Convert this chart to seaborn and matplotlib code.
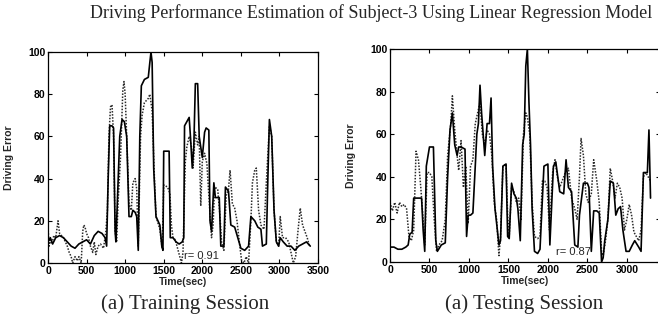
import matplotlib
matplotlib.use("Agg")
import matplotlib.pyplot as plt
import seaborn as sns
import pandas as pd

# ---------------- data ----------------
train_t_actual = [0, 30, 60, 100, 150, 200, 250, 300, 350, 400, 450, 500, 550, 600, 650, 700, 740, 760,
                  780, 800, 830, 850, 870, 880, 900, 930, 960, 990, 1020, 1050, 1080, 1100, 1130, 1150,
                  1170, 1190, 1210, 1250, 1300, 1320, 1335, 1350, 1370, 1400, 1450, 1475, 1490, 1500,
                  1570, 1585, 1620, 1660, 1700, 1740, 1760, 1770, 1800, 1830, 1850, 1870, 1890, 1910,
                  1940, 1960, 2000, 2030, 2050, 2085, 2100, 2120, 2150, 2170, 2220, 2240, 2280, 2300,
                  2340, 2370, 2420, 2460, 2500, 2550, 2600, 2630, 2680, 2720, 2760, 2780, 2830, 2850,
                  2870, 2900, 2930, 2960, 2990, 3010, 3050, 3100, 3150, 3200, 3250, 3300, 3350, 3400]
train_actual = [10, 12, 9, 12, 13, 12, 10, 8, 7, 9, 10, 11, 9, 13, 15, 14, 12, 8,
                40, 65, 65, 64, 15, 10, 30, 60, 68, 67, 60, 22, 22, 25, 24, 22,
                6, 60, 84, 87, 88, 95, 100, 95, 45, 22, 18, 8, 6, 53,
                53, 12, 12, 10, 9, 10, 12, 65, 67, 69, 58, 45, 55, 85,
                85, 60, 50, 62, 64, 63, 20, 15, 38, 31, 31, 8, 8, 36,
                34, 18, 17, 12, 7, 6, 8, 22, 20, 17, 16, 8, 9, 40,
                68, 60, 25, 10, 8, 12, 10, 8, 8, 6, 8, 9, 10, 8]

train_t_est = [0, 15, 30, 50, 75, 100, 115, 130, 150, 175, 200, 225, 250, 275, 300, 320, 350, 380, 400,
               430, 450, 465, 480, 500, 525, 550, 580, 600, 620, 650, 680, 720, 750, 770, 790, 810, 830,
               850, 870, 890, 910, 940, 970, 985, 1000, 1030, 1050, 1080, 1100, 1130, 1150, 1170, 1200,
               1220, 1250, 1300, 1320, 1350, 1380, 1400, 1450, 1480, 1500, 1550, 1580, 1600, 1620, 1650,
               1700, 1730, 1750, 1780, 1800, 1830, 1860, 1880, 1910, 1940, 1960, 1980, 2000, 2030, 2060,
               2100, 2120, 2140, 2160, 2200, 2230, 2250, 2280, 2310, 2340, 2360, 2390, 2420, 2450, 2480,
               2510, 2540, 2570, 2600, 2630, 2650, 2680, 2700, 2730, 2760, 2800, 2830, 2870, 2900, 2930,
               2960, 2990, 3010, 3040, 3080, 3120, 3150, 3180, 3210, 3240, 3270, 3300, 3330, 3360, 3390]
train_est = [17, 8, 11, 9, 13, 12, 16, 20, 14, 13, 12, 10, 8, 5, 3, 0, 3, 1, 3,
             0, 15, 18, 17, 14, 12, 8, 5, 10, 4, 8, 9, 7, 15, 25, 60, 74, 75,
             60, 15, 10, 30, 50, 82, 86, 80, 50, 28, 25, 38, 40, 35, 8, 60,
             70, 76, 78, 80, 72, 40, 22, 16, 7, 37, 36, 33, 18, 12, 11,
             4, 0, 5, 48, 55, 60, 55, 45, 62, 56, 60, 27, 48, 52, 47,
             23, 12, 18, 36, 35, 22, 10, 6, 32, 35, 44, 28, 26, 20, 10,
             1, 0, 3, 0, 20, 38, 44, 45, 25, 18, 16, 38, 65, 60, 25,
             10, 8, 22, 12, 12, 10, 5, 0, 3, 15, 26, 18, 15, 12, 8]

test_t_actual = [0, 50, 100, 150, 200, 230, 250, 280, 300, 350, 400, 420, 440, 460, 500, 550, 580, 600,
                 650, 700, 730, 760, 790, 820, 850, 870, 900, 950, 970, 990, 1020, 1050, 1080, 1100, 1120,
                 1140, 1160, 1180, 1200, 1230, 1260, 1280, 1300, 1330, 1360, 1380, 1400, 1430, 1470, 1490,
                 1510, 1540, 1570, 1600, 1620, 1650, 1680, 1700, 1720, 1740, 1760, 1780, 1800, 1830, 1870,
                 1900, 1950, 2000, 2025, 2070, 2100, 2150, 2200, 2230, 2260, 2300, 2340, 2380, 2400, 2450,
                 2500, 2520, 2550, 2580, 2620, 2650, 2680, 2700, 2720, 2760, 2790, 2830, 2860, 2890, 2920,
                 2950, 2990, 3030, 3070, 3100, 3150, 3180, 3210, 3260, 3280, 3300]
test_actual = [7, 7, 6, 6, 7, 8, 13, 14, 30, 30, 30, 15, 5, 45, 54, 54, 10, 5,
               8, 9, 40, 62, 70, 55, 50, 54, 54, 53, 12, 22, 22, 23, 45, 60, 65,
               83, 70, 60, 50, 65, 65, 77, 45, 25, 15, 8, 10, 45, 46, 12,
               11, 37, 32, 30, 25, 10, 55, 60, 92, 100, 75, 55, 25, 5, 4,
               6, 45, 46, 8, 45, 47, 33, 32, 48, 35, 33, 8, 7, 22, 37,
               37, 35, 5, 24, 24, 23, 0, 2, 10, 20, 38, 37, 22, 25, 26,
               15, 5, 5, 8, 10, 7, 5, 42, 42, 62, 30]

test_t_est = [0, 30, 60, 90, 120, 150, 180, 210, 240, 270, 300, 330, 360, 390, 420, 440, 470, 500, 530,
              560, 590, 620, 660, 700, 730, 770, 790, 820, 850, 870, 900, 930, 960, 990, 1020, 1050, 1080,
              1110, 1140, 1170, 1200, 1230, 1260, 1290, 1320, 1350, 1380, 1400, 1430, 1470, 1490, 1510,
              1540, 1570, 1600, 1630, 1660, 1690, 1720, 1740, 1770, 1800, 1830, 1870, 1900, 1930, 1960,
              1990, 2020, 2060, 2090, 2120, 2150, 2180, 2220, 2260, 2300, 2340, 2370, 2400, 2420, 2450,
              2480, 2510, 2550, 2580, 2620, 2650, 2680, 2700, 2730, 2760, 2790, 2820, 2850, 2880, 2910,
              2940, 2970, 3000, 3030, 3060, 3090, 3120, 3150, 3180, 3210, 3240, 3270, 3300]
test_est = [28, 24, 28, 23, 28, 26, 27, 25, 12, 10, 15, 52, 48, 35, 20, 8, 42, 42, 40,
            20, 5, 8, 10, 20, 50, 65, 78, 62, 50, 43, 57, 35, 45, 18, 45, 48, 65,
            70, 75, 60, 55, 62, 60, 50, 28, 20, 3, 12, 45, 46, 22, 12,
            35, 33, 28, 30, 20, 60, 70, 68, 60, 28, 12, 11, 12, 38, 38,
            35, 15, 42, 48, 40, 35, 38, 42, 44, 30, 25, 20, 40, 58, 50,
            32, 28, 32, 48, 38, 28, 5, 3, 10, 20, 44, 38, 30, 37, 35,
            30, 15, 20, 27, 22, 14, 12, 10, 15, 40, 42, 40, 38]

train_x_ticks = [0, 500, 1000, 1500, 2000, 2500, 3000, 3500]
test_x_ticks = [0, 500, 1000, 1500, 2000, 2500, 3000]
y_ticks = [0, 20, 40, 60, 80, 100]

# ---------------- figure ----------------
sns.set_style("ticks")
plt.rcParams["font.family"] = ["Liberation Sans", "DejaVu Sans"]

W, H = 658, 321
fig = plt.figure(figsize=(W / 100, H / 100), dpi=100)


def px_axes(x0, y0, x1, y1):
    return fig.add_axes([x0 / W, 1 - y1 / H, (x1 - x0) / W, (y1 - y0) / H])


ax1 = px_axes(48, 52, 318, 263)
ax2 = px_axes(390, 49, 660, 262)


def draw(ax, ta, va, te, ve, xlim, xticks, rtext, rpos):
    da = pd.DataFrame({"t": ta, "v": va})
    de = pd.DataFrame({"t": te, "v": ve})
    sns.lineplot(data=de, x="t", y="v", ax=ax, color="#2a2a2a", linewidth=1.1,
                 linestyle=(0, (1, 1)), estimator=None, sort=False)
    sns.lineplot(data=da, x="t", y="v", ax=ax, color="black", linewidth=1.2,
                 estimator=None, sort=False)
    ax.set_xlim(*xlim)
    ax.set_ylim(0, 100)
    ax.set_xticks(xticks)
    ax.set_yticks(y_ticks)
    ax.tick_params(direction="in", length=3, width=0.8, top=True, right=True,
                   labelsize=7.5, pad=2, colors="black")
    for lab in ax.get_xticklabels() + ax.get_yticklabels():
        lab.set_fontweight("bold")
    for s in ax.spines.values():
        s.set_color("black")
        s.set_linewidth(0.9)
    ax.set_xlabel("Time(sec)", fontsize=7.5, fontweight="bold", labelpad=1)
    ax.set_ylabel("Driving Error", fontsize=7.5, fontweight="bold", labelpad=10)
    ax.text(rpos[0], rpos[1], rtext, fontsize=8, va="center", ha="left")


draw(ax1, train_t_actual, train_actual, train_t_est, train_est, (0, 3500), train_x_ticks,
     "r= 0.91", (1760, 3.5))
draw(ax2, test_t_actual, test_actual, test_t_est, test_est, (0, 3420), test_x_ticks,
     "r= 0.87", (2100, 4.5))

fig.text(652 / W, 1 - 13 / H,
         "Driving Performance Estimation of Subject-3 Using Linear Regression Model",
         ha="right", va="center", fontsize=13, family=["Liberation Serif", "DejaVu Serif"])
fig.text(185 / W, 1 - 304 / H, "(a) Training Session", ha="center", va="center",
         fontsize=15, family=["Liberation Serif", "DejaVu Serif"])
fig.text(524 / W, 1 - 304 / H, "(a) Testing Session", ha="center", va="center",
         fontsize=15, family=["Liberation Serif", "DejaVu Serif"])

fig.savefig("out.png", dpi=100)
